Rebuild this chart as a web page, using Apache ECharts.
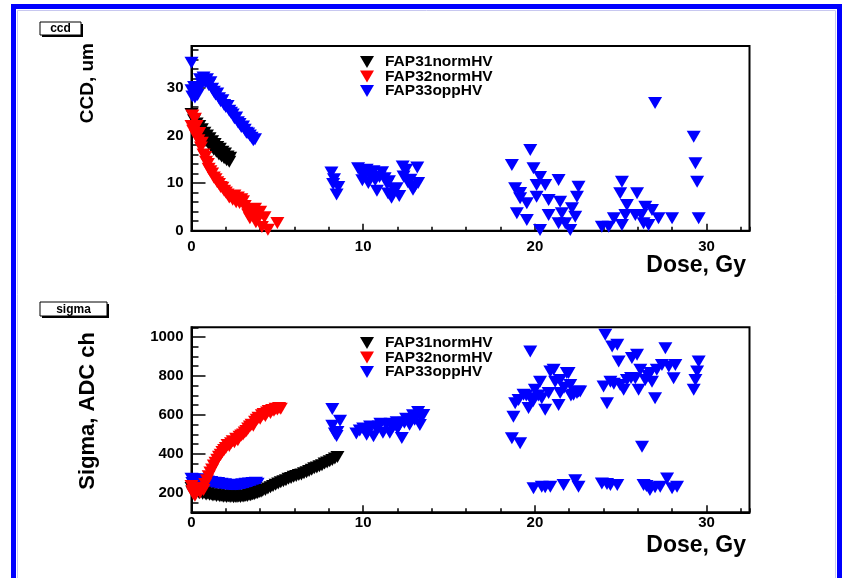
<!DOCTYPE html>
<html>
<head>
<meta charset="utf-8">
<script src="https://cdn.jsdelivr.net/npm/echarts@6/dist/echarts.min.js"></script>
<style>
  html, body { margin: 0; padding: 0; background: #ffffff; }
  #chart { width: 849px; height: 578px; }
</style>
</head>
<body>
<div id="chart"></div>
<script>
// Series names and axis ticks
const seriesNames = ['FAP31normHV', 'FAP32normHV', 'FAP33oppHV'];
const doseTicks = [0, 10, 20, 30];
const ccdTicks = [0, 10, 20, 30];
const sigmaTicks = [200, 400, 600, 800, 1000];

// CCD (um) versus dose (Gy): [dose, ccd]
const ccdFap31 = [
  [0.0,24.5],[0.05,22.0],[0.15,23.2],[0.25,21.0],[0.3,22.5],[0.4,20.8],[0.45,22.0],[0.55,20.0],
  [0.6,21.3],[0.7,19.5],[0.75,20.6],[0.85,18.8],[0.9,20.0],[1.0,18.2],[1.05,19.4],[1.15,17.6],
  [1.2,18.8],[1.3,17.0],[1.35,18.2],[1.45,16.6],[1.5,17.6],[1.6,16.0],[1.65,17.2],[1.75,15.6],
  [1.8,16.6],[1.9,15.2],[1.95,16.2],[2.05,14.8],[2.1,15.6],[2.2,14.5],[2.25,15.3]
];
const ccdFap32 = [
  [0.0,22.0],[0.05,24.2],[0.1,21.0],[0.2,23.5],[0.25,20.0],[0.3,22.0],[0.4,19.0],[0.45,20.5],
  [0.55,17.5],[0.6,18.5],[0.7,16.0],[0.8,15.5],[0.85,14.5],[0.95,14.0],[1.0,13.0],[1.1,12.5],
  [1.2,12.0],[1.3,11.2],[1.4,10.8],[1.5,10.2],[1.6,9.8],[1.7,9.2],[1.8,9.0],[1.9,8.4],
  [2.0,8.0],[2.1,7.6],[2.2,7.0],[2.3,7.2],[2.4,6.5],[2.5,7.4],[2.6,6.0],[2.7,7.0],
  [2.8,5.8],[2.9,6.6],[3.0,6.2],[3.1,5.2],[3.2,4.4],[3.3,3.4],[3.4,2.6],[3.5,4.2],
  [3.6,3.0],[3.7,4.6],[3.75,1.8],[3.9,2.6],[4.0,4.0],[4.1,0.8],[4.25,2.8],[4.45,0.2],[5.0,1.6]
];
const ccdFap33 = [
  [0.0,35.3],[0.0,29.5],[0.05,28.2],[0.15,30.2],[0.2,28.0],[0.3,29.2],[0.35,28.5],[0.45,30.0],
  [0.5,31.8],[0.6,30.8],[0.7,32.2],[0.8,31.2],[0.9,31.8],[1.0,30.6],[1.1,31.2],[1.2,29.8],
  [1.3,29.2],[1.4,28.6],[1.5,28.8],[1.6,27.8],[1.7,27.2],[1.8,27.4],[1.9,26.4],[2.0,26.0],
  [2.1,26.2],[2.2,25.2],[2.3,24.8],[2.4,24.4],[2.5,23.6],[2.6,23.8],[2.7,22.8],[2.8,22.4],
  [2.9,21.8],[3.0,21.9],[3.1,21.2],[3.2,20.6],[3.3,20.4],[3.4,20.0],[3.5,19.5],[3.6,19.0],[3.7,19.2],
  [8.15,12.2],[8.3,10.8],[8.25,9.8],[8.55,9.2],[8.45,7.6],
  [9.7,13.1],[9.9,12.6],[10.0,11.5],[9.95,10.6],[10.2,12.8],[10.3,10.0],[10.4,11.6],[10.6,12.5],
  [10.7,10.6],[10.8,8.4],[10.95,11.3],[11.1,12.3],[11.25,11.0],[11.4,9.8],[11.5,10.4],[11.45,7.8],
  [11.65,6.9],[11.8,8.6],[11.95,8.9],[12.1,7.3],[12.3,13.5],[12.35,11.4],[12.5,12.8],[12.6,10.2],
  [12.75,10.7],[12.9,8.6],[13.0,9.3],[13.15,13.3],[13.2,10.0],
  [18.66,13.8],[19.73,16.95],[19.92,13.1],[18.85,8.9],[19.14,7.9],[19.14,6.8],[19.53,5.75],
  [18.95,3.65],[19.53,2.25],[20.1,7.14],[20.3,11.3],[20.6,9.6],[20.1,9.6],[20.3,0.15],[20.8,6.45],
  [20.8,3.3],[21.38,10.65],[21.47,6.1],[21.57,3.65],[21.38,1.55],[21.77,1.55],[22.06,0.15],
  [22.16,4.7],[22.35,2.95],[22.54,9.25],[22.45,7.14],
  [23.9,0.85],[24.3,0.85],[24.6,2.6],[25.07,10.3],[24.97,7.86],[25.36,5.4],[25.27,3.3],[25.07,1.2],
  [25.95,7.86],[25.85,3.3],[26.2,3.3],[26.43,5.05],[26.82,4.35],[26.33,1.55],[26.62,1.2],
  [27.0,26.8],[27.2,2.6],[27.99,2.6],[29.25,19.75],[29.35,14.15],[29.45,10.3],[29.54,2.6]
];

// Sigma (ADC ch) versus dose (Gy): [dose, sigma]
const sigmaFap31 = [
  [0.0,225],[0.05,205],[0.15,215],[0.25,200],[0.35,210],[0.45,198],[0.55,205],[0.65,195],
  [0.75,200],[0.85,192],[0.95,196],[1.05,190],[1.15,192],[1.25,186],[1.35,190],[1.45,184],
  [1.55,187],[1.65,182],[1.75,185],[1.85,180],[1.95,183],[2.05,179],[2.15,182],[2.25,178],
  [2.35,181],[2.45,177],[2.55,180],[2.65,178],[2.75,181],[2.85,179],[2.95,183],[3.05,181],
  [3.15,185],[3.25,184],[3.35,189],[3.45,188],[3.55,193],[3.65,193],[3.75,198],[3.85,199],
  [3.95,204],[4.05,206],[4.15,211],[4.3,215],[4.45,222],[4.6,228],[4.75,235],[4.9,241],
  [5.05,248],[5.2,254],[5.35,260],[5.5,264],[5.65,272],[5.8,276],[5.95,283],[6.1,287],
  [6.25,291],[6.4,294],[6.55,300],[6.7,306],[6.85,312],[7.0,318],[7.15,326],[7.3,330],
  [7.45,336],[7.6,342],[7.75,350],[7.9,356],[8.05,362],[8.2,368],[8.35,376],[8.5,384]
];
const sigmaFap32 = [
  [0.0,235],[0.05,210],[0.1,195],[0.15,225],[0.2,185],[0.3,205],[0.4,215],[0.5,200],
  [0.6,225],[0.7,215],[0.8,245],[0.9,265],[1.0,285],[1.1,305],[1.2,320],[1.3,340],
  [1.4,355],[1.5,370],[1.6,385],[1.7,395],[1.8,410],[1.9,420],[2.0,430],[2.1,445],
  [2.2,440],[2.3,455],[2.4,465],[2.5,460],[2.6,478],[2.7,470],[2.8,488],[2.9,495],
  [3.0,500],[3.1,510],[3.2,518],[3.3,530],[3.4,540],[3.5,550],[3.6,545],[3.7,565],
  [3.8,575],[3.9,585],[4.0,580],[4.1,598],[4.2,605],[4.3,595],[4.4,612],[4.5,620],
  [4.6,610],[4.7,625],[4.8,622],[4.9,632],[5.0,628],[5.1,636],[5.2,632]
];
const sigmaFap33 = [
  [0.0,272],[0.05,250],[0.15,268],[0.25,255],[0.35,270],[0.45,258],[0.55,266],[0.65,252],
  [0.75,262],[0.85,250],[0.95,258],[1.05,248],[1.15,255],[1.25,245],[1.35,252],[1.45,243],
  [1.55,250],[1.65,240],[1.75,247],[1.85,238],[1.95,244],[2.05,236],[2.15,242],[2.25,232],
  [2.35,240],[2.45,230],[2.55,238],[2.65,233],[2.75,240],[2.85,236],[2.95,244],[3.05,238],
  [3.15,246],[3.25,240],[3.35,248],[3.45,242],[3.55,250],[3.65,244],[3.75,252],[3.85,246],
  [8.2,630],[8.65,570],[8.2,545],[8.5,512],[8.45,492],[8.35,505],
  [9.6,505],[9.8,520],[10.0,530],[10.2,498],[10.3,520],[10.4,540],[10.6,490],[10.8,525],
  [10.9,540],[11.0,555],[11.15,508],[11.35,548],[11.55,508],[11.6,555],[11.75,540],[11.95,562],
  [12.0,530],[12.1,545],[12.25,482],[12.4,560],[12.5,580],[12.7,550],[12.8,570],[12.9,598],
  [13.0,575],[13.2,615],[13.3,548],[13.35,590],[13.5,600],
  [19.73,926],[18.75,591],[18.85,660],[19.05,677],[19.34,703],[19.5,700],[19.63,635],[19.73,686],
  [19.9,670],[20.0,729],[20.2,700],[20.3,771],[20.4,686],[20.6,626],[20.8,712],[20.9,823],
  [21.09,832],[21.18,771],[21.38,651],[21.47,712],[21.47,780],[21.7,740],[21.86,815],[21.96,815],
  [22.06,754],[22.1,700],[22.25,703],[22.45,712],[22.54,720],[22.64,720],[18.66,480],[19.14,454],
  [19.92,223],[20.4,231],[20.6,228],[20.9,231],[21.67,240],[22.35,265],[22.54,231],[23.9,248],
  [24.2,245],[24.4,240],[24.8,240],[26.33,240],[26.5,235],[26.7,214],[27.0,228],[27.3,231],
  [27.7,274],[27.99,223],[28.28,231],
  [26.24,437],[24.1,1012],[24.5,952],[24.8,960],[24.88,874],[24.0,746],[24.2,660],[24.4,771],
  [24.6,760],[24.97,754],[25.17,729],[25.36,780],[25.6,790],[25.65,892],[25.95,909],[25.85,789],
  [26.04,729],[26.14,832],[26.43,780],[26.6,800],[26.72,815],[26.82,771],[27.0,686],[27.1,832],
  [27.4,857],[27.6,943],[27.8,849],[28.08,789],[28.18,857],[29.25,729],[29.35,780],[29.45,823],[29.54,874]
];

const FONT = '"Liberation Sans", Arial, Helvetica, sans-serif';
const TRIANGLE_DOWN = 'path://M0,0L14,0L7,12Z';
const COLORS = { 'FAP31normHV': '#000000', 'FAP32normHV': '#ff0000', 'FAP33oppHV': '#0000ff' };

const chart = echarts.init(document.getElementById('chart'), null, { renderer: 'canvas' });

const grids = [
  { left: 191.5, top: 46, width: 558, height: 184.7 },
  { left: 191.5, top: 327.3, width: 558, height: 185 }
].map(g => Object.assign({ show: true, borderColor: '#000', borderWidth: 2, backgroundColor: 'transparent' }, g));

const labelStyle = { color: '#000', fontFamily: FONT, fontWeight: 'bold', fontSize: 15 };

function doseAxis(gridIndex, labelMargin) {
  return [
    { // major ticks with labels
      type: 'value', gridIndex, position: 'bottom', min: 0, max: 32.5, interval: 10,
      axisLine: { show: true, lineStyle: { color: '#000', width: 2 } },
      axisTick: { show: true, inside: true, length: 7, lineStyle: { color: '#000', width: 1.5 } },
      axisLabel: Object.assign({ margin: labelMargin, showMaxLabel: false,
        formatter: v => doseTicks.includes(v) ? String(v) : '' }, labelStyle),
      splitLine: { show: false }
    },
    { // minor ticks
      type: 'value', gridIndex, position: 'bottom', min: 0, max: 32.5, interval: 2,
      axisLine: { show: false },
      axisTick: { show: true, inside: true, length: 4, lineStyle: { color: '#000', width: 1.5 } },
      axisLabel: { show: false }, splitLine: { show: false }
    }
  ];
}

const xAxes = doseAxis(0, 9).concat(doseAxis(1, 3));

const yAxes = [
  { // CCD major
    type: 'value', gridIndex: 0, position: 'left', min: 0, max: 38.8, interval: 10,
    axisLine: { show: true, lineStyle: { color: '#000', width: 2 } },
    axisTick: { show: true, inside: true, length: 14, lineStyle: { color: '#000', width: 1.5 } },
    axisLabel: Object.assign({ margin: 8, showMaxLabel: false,
      formatter: v => ccdTicks.includes(v) ? String(v) : '' }, labelStyle),
    splitLine: { show: false }
  },
  { // CCD minor
    type: 'value', gridIndex: 0, position: 'left', min: 0, max: 38.8, interval: 2,
    axisLine: { show: false },
    axisTick: { show: true, inside: true, length: 7, lineStyle: { color: '#000', width: 1.5 } },
    axisLabel: { show: false }, splitLine: { show: false }
  },
  { // Sigma major
    type: 'value', gridIndex: 1, position: 'left', min: 100, max: 1050,
    splitNumber: 5, minInterval: 200, maxInterval: 200,
    axisLine: { show: true, lineStyle: { color: '#000', width: 2 } },
    axisTick: { show: true, inside: true, length: 14, lineStyle: { color: '#000', width: 1.5 } },
    axisLabel: Object.assign({ margin: 8, showMinLabel: false, showMaxLabel: false,
      formatter: v => sigmaTicks.includes(v) ? String(v) : '' }, labelStyle),
    splitLine: { show: false }
  },
  { // Sigma minor
    type: 'value', gridIndex: 1, position: 'left', min: 100, max: 1050, interval: 50,
    axisLine: { show: false },
    axisTick: { show: true, inside: true, length: 7, lineStyle: { color: '#000', width: 1.5 } },
    axisLabel: { show: false }, splitLine: { show: false }
  }
];

function scatter(name, data, xIdx, yIdx) {
  return {
    type: 'scatter', name, data, xAxisIndex: xIdx, yAxisIndex: yIdx,
    symbol: TRIANGLE_DOWN, symbolSize: [14, 12], clip: false,
    itemStyle: { color: COLORS[name], opacity: 1 },
    emphasis: { disabled: true }, silent: true, animation: false
  };
}

// Drawing order: FAP33 underneath, then FAP31, FAP32 on top
const series = [
  scatter('FAP33oppHV', ccdFap33, 0, 0),
  scatter('FAP31normHV', ccdFap31, 0, 0),
  scatter('FAP32normHV', ccdFap32, 0, 0),
  scatter('FAP33oppHV', sigmaFap33, 2, 2),
  scatter('FAP31normHV', sigmaFap31, 2, 2),
  scatter('FAP32normHV', sigmaFap32, 2, 2)
];

function legendAt(top) {
  return {
    data: seriesNames, left: 355, top, orient: 'vertical', selectedMode: false,
    icon: TRIANGLE_DOWN, itemWidth: 14, itemHeight: 12, itemGap: -1.5,
    textStyle: { color: '#000', fontFamily: FONT, fontWeight: 'bold', fontSize: 15.5,
      lineHeight: 12, padding: [0, 0, 0, 6] }
  };
}

function titleBox(x, y, w, h, label) {
  return [
    { type: 'rect', shape: { x: x + 2, y: y + 2, width: w, height: h }, style: { fill: '#000' }, z: 10 },
    { type: 'rect', shape: { x, y, width: w, height: h }, style: { fill: '#fff', stroke: '#000', lineWidth: 1 }, z: 11 },
    { type: 'text', x: x + w / 2, y: y + h / 2 + 0.5, z: 12,
      style: { text: label, fill: '#000', font: 'bold 12px ' + FONT, textAlign: 'center', textVerticalAlign: 'middle' } }
  ];
}

function axisTitle(x, y, text, rotated, size) {
  return {
    type: 'text', x, y, rotation: rotated ? Math.PI / 2 : 0, z: 12,
    style: { text, fill: '#000', font: 'bold ' + size + 'px ' + FONT,
      textAlign: 'right', textVerticalAlign: 'middle' }
  };
}

const graphic = [
  { type: 'rect', shape: { x: 13.5, y: 6.5, width: 826, height: 640 },
    style: { fill: 'none', stroke: '#0000ff', lineWidth: 5 }, z: 20 },
  { type: 'rect', shape: { x: 17.5, y: 10.5, width: 818, height: 640 },
    style: { fill: 'none', stroke: '#c8c8f0', lineWidth: 1 }, z: 20 },
  ...titleBox(40, 22, 41, 13, 'ccd'),
  ...titleBox(40, 302, 67, 14, 'sigma'),
  axisTitle(88, 43, 'CCD, um', true, 19),
  axisTitle(88, 332, 'Sigma, ADC ch', true, 22),
  axisTitle(746, 266, 'Dose, Gy', false, 23),
  axisTitle(746, 546, 'Dose, Gy', false, 23)
];

chart.setOption({
  animation: false,
  backgroundColor: '#ffffff',
  grid: grids,
  xAxis: xAxes,
  yAxis: yAxes,
  legend: [legendAt(49), legendAt(330)],
  series,
  graphic
});
</script>
</body>
</html>
